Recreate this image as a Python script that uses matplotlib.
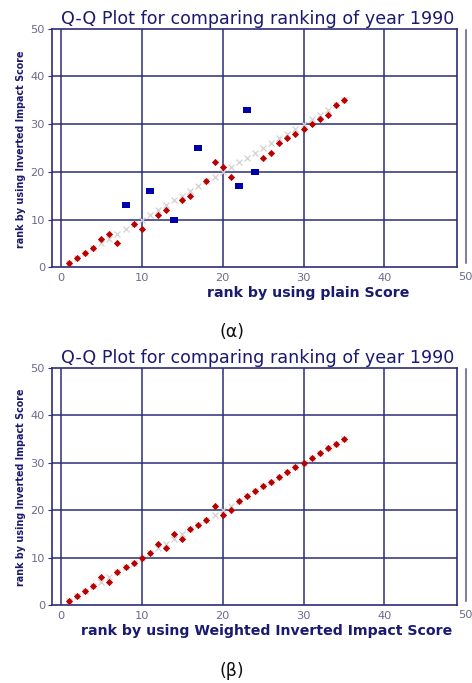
import matplotlib
matplotlib.use("Agg")
import matplotlib.pyplot as plt
from matplotlib.lines import Line2D
import numpy as np

# ---- data ----
a_red_x = [1, 2, 3, 4, 5, 6, 7, 9, 10, 12, 13, 15, 16, 18, 19, 20, 21,
           25, 26, 27, 28, 29, 30, 31, 32, 33, 34, 35]
a_red_y = [1, 2, 3, 4, 6, 7, 5, 9, 8, 11, 12, 14, 15, 18, 22, 21, 19,
           23, 24, 26, 27, 28, 29, 30, 31, 32, 34, 35]
a_blue_x = [8, 11, 14, 17, 22, 23, 24]
a_blue_y = [13, 16, 10, 25, 17, 33, 20]

b_red_x = list(range(1, 36))
b_red_y = [1, 2, 3, 4, 6, 5, 7, 8, 9, 10, 11, 13, 12, 15, 14, 16, 17, 18,
           21, 19, 20, 22, 23, 24, 25, 26, 27, 28, 29, 30, 31, 32, 33, 34, 35]

ref_x = list(range(1, 36))
ref_y = list(range(1, 36))

x_ticks = [0, 10, 20, 30, 40, 50]
y_ticks = [0, 10, 20, 30, 40, 50]

title = "Q-Q Plot for comparing ranking of year 1990"
ylabel = "rank by using Inverted Impact Score"
xlabel_a = "rank by using plain Score"
xlabel_b = "rank by using Weighted Inverted Impact Score"

W, H = 472, 683
fig = plt.figure(figsize=(W / 100, H / 100), dpi=100)

NAVY = "#2e2e78"
TICKC = "#6b6b8c"
TXT = "#1a1a70"
RED = "#b80000"
BLUE = "#0000a8"

RECT = [(-1.4, -1), (1.4, -1), (1.4, 1), (-1.4, 1), (-1.4, -1)]


def fx(px):
    return px / W


def fy(py):
    return 1 - py / H


def panel(top_px, bot_px, red_x, red_y, blue_x, blue_y, xlabel, xl_cx,
          cap, cap_y):
    left_px, right_px = 52, 457.3
    ax = fig.add_axes([fx(left_px), fy(bot_px), fx(right_px - left_px),
                       (bot_px - top_px) / H])
    x0 = 60.8
    sc = 8.09
    ax.set_xlim((left_px - x0) / sc, (right_px - x0) / sc)
    ax.set_ylim(0, 50)
    for v in [0, 10, 20, 30, 40]:
        ax.axvline(v, color=NAVY, lw=1.1, zorder=1)
    for v in [10, 20, 30, 40]:
        ax.axhline(v, color=NAVY, lw=1.1, zorder=1)
    for s in ax.spines.values():
        s.set_color(NAVY)
        s.set_linewidth(1.2)
    ax.plot(ref_x, ref_y, linestyle="none", marker="x", ms=5, mew=0.9,
            color="#d2d2d2", zorder=2)
    ax.plot(red_x, red_y, linestyle="none", marker="D", ms=3.1, mew=0.6,
            color=RED, zorder=3)
    if blue_x:
        ax.plot(blue_x, blue_y, linestyle="none", marker=RECT, ms=6.2,
                mew=0, color=BLUE, zorder=3)
    ax.set_xticks(x_ticks[:-1])
    ax.set_yticks(y_ticks)
    ax.tick_params(axis="x", length=0, pad=4, labelsize=8.2,
                   labelcolor=TICKC)
    ax.tick_params(axis="y", length=3, color=NAVY, pad=2, labelsize=8.2,
                   labelcolor=TICKC)
    # extra "50" tick label, clipped at the figure edge
    ax.text(x_ticks[-1], -0.9, str(x_ticks[-1]), transform=ax.transData,
            ha="center", va="top", fontsize=8.2, color=TICKC, clip_on=False)
    # extra vertical line right of the frame
    fig.add_artist(Line2D([fx(465.7), fx(465.7)],
                          [fy(top_px + 1), fy(bot_px - 4)],
                          color=NAVY, lw=1.1, alpha=0.8))
    fig.text(fx(258), fy(top_px - 10), title, ha="center", va="center",
             fontsize=12.6, color=TXT)
    fig.text(fx(xl_cx), fy(bot_px + 26), xlabel, ha="center",
             va="center", fontsize=10.2, fontweight="bold", color=TXT)
    fig.text(fx(21), fy((top_px + bot_px) / 2 + 1), ylabel, rotation=90,
             ha="center", va="center", fontsize=6.9, fontweight="bold",
             color=TXT)
    fig.text(fx(232), fy(cap_y), cap, ha="center", va="center",
             fontsize=12.5, color="#111111")
    return ax


panel(28.7, 267.3, a_red_x, a_red_y, a_blue_x, a_blue_y, xlabel_a, 308,
      "(\u03b1)", 332)
panel(367.7, 605.3, b_red_x, b_red_y, [], [], xlabel_b, 267,
      "(\u03b2)", 671)

fig.savefig("out.png", dpi=100)
